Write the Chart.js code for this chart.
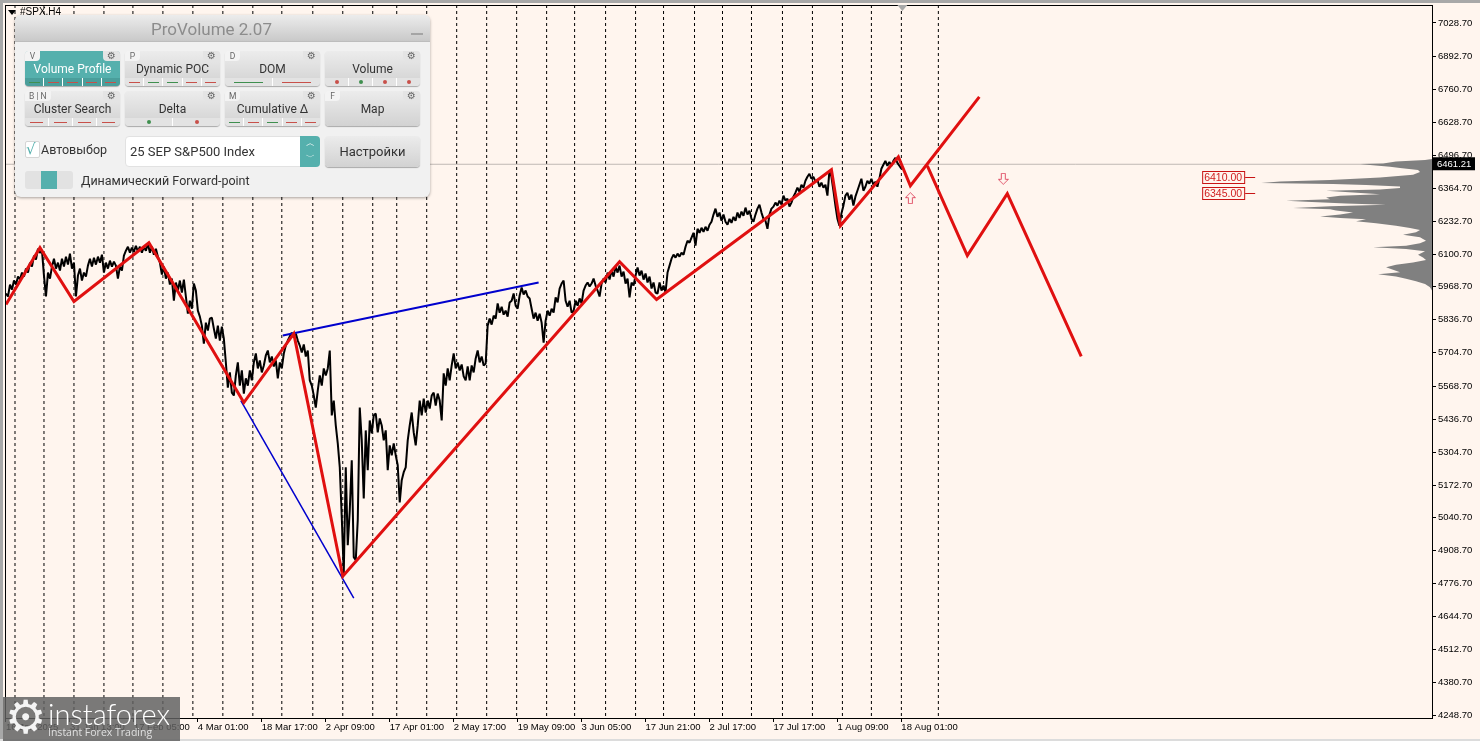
<!DOCTYPE html>
<html>
<head>
<meta charset="utf-8">
<title>#SPX,H4</title>
<script src="https://cdn.jsdelivr.net/npm/chart.js@4/dist/chart.umd.min.js"></script>
<style>
    html, body { margin: 0; padding: 0; background: #fff5ee; overflow: hidden; }
    #stage { position: relative; width: 1480px; height: 741px; font-family: Roboto, sans-serif; }
    #stage canvas { position: absolute; left: 0; top: 0; }
    .edge { position: absolute; background: #a8a8a8; }
    #symbol { position: absolute; left: 20px; top: 6px; font: 10px "Liberation Sans", sans-serif; color: #000; }
    #symbolArrow { position: absolute; left: 8px; top: 10px; width: 0; height: 0; border: 4px solid transparent; border-top: 5px solid #000; }

    #panel { position: absolute; left: 15px; top: 15px; width: 415px; height: 182px; background: #f1f1f1; border-radius: 6px; box-shadow: 0 1px 3px rgba(0,0,0,.35); }
    #panelTitle { height: 26px; padding-right: 22px; line-height: 28px; text-align: center; font-size: 17px; color: #8c8c8c; background: linear-gradient(#ececec, #c9c9c9); border-radius: 6px 6px 0 0; border-bottom: 1px solid #bdbdbd; }
    #panelMin { position: absolute; right: 7px; top: 18px; width: 12px; height: 2px; background: #a5a5a5; }
    .btn { position: absolute; width: 95px; height: 35px; border-radius: 4px; background: linear-gradient(#ececec, #d2d2d2); box-shadow: 0 1px 1px rgba(0,0,0,.3); font-size: 12px; color: #333; text-align: center; line-height: 36px; }
    .btn.active { background: #55b0ad; color: #fff; }
    .key { position: absolute; left: 0; top: 0; height: 10px; min-width: 7px; padding: 0 4px; background: #f3f3f3; border-radius: 3px 0 4px 0; font-size: 8.5px; line-height: 11px; color: #666; }
    .gear { position: absolute; right: 0; top: 0; width: 17px; height: 10px; background: #e4e4e4; border-radius: 0 3px 0 4px; font: 10px/10px "DejaVu Sans", sans-serif; color: #666; }
    .strip { position: absolute; left: 0; right: 0; bottom: 0; height: 8px; display: flex; background: #e3e3e3; border-radius: 0 0 4px 4px; }
    .active .strip { background: #4a9e9b; }
    .cell { flex: 1; position: relative; border-left: 1px solid #fff; }
    .cell:first-child { border-left: none; }
    .dash { position: absolute; left: 20%; right: 20%; top: 4px; height: 1px; }
    .dot { position: absolute; left: 50%; top: 2px; width: 4px; height: 4px; margin-left: -2px; border-radius: 50%; }
    #check { position: absolute; left: 10px; top: 126px; width: 13px; height: 15px; background: #fff; border: 1px solid #d5d5d5; border-radius: 2px; color: #55b0ad; font: 15px/14px "DejaVu Sans", sans-serif; }
    #checkLabel { position: absolute; left: 26px; top: 127px; font-size: 12.5px; color: #333; }
    #combo { position: absolute; left: 110px; top: 121px; width: 171px; height: 29px; padding-left: 4px; background: #fff; border: 1px solid #e2e2e2; border-radius: 4px 0 0 4px; font-size: 13px; line-height: 30px; color: #333; }
    #spin { position: absolute; left: 285px; top: 121px; width: 20px; height: 31px; background: #55b0ad; border-radius: 0 4px 4px 0; color: #fff; font: 9px/14px "DejaVu Sans", sans-serif; text-align: center; }
    #setup { left: 310px; top: 121px; height: 31px; line-height: 32px; font-size: 13px; }
    #toggle { position: absolute; left: 10px; top: 156px; width: 48px; height: 18px; border-radius: 3px; background: #e2e2e2; }
    #toggle div { position: absolute; left: 16px; width: 16px; height: 18px; background: #55b0ad; }
    #toggleLabel { position: absolute; left: 66px; top: 158px; font-size: 12.5px; color: #333; }

    #logo { position: absolute; left: 3px; top: 697px; width: 177px; height: 44px; background: rgba(96,96,96,.84); color: #fff; overflow: hidden; }
    #logoGear { position: absolute; left: 2px; top: -10px; font: 46px/60px "DejaVu Sans", sans-serif; color: #f4f4f4; }
    #logoName { position: absolute; left: 45px; top: 0; font: 300 29px/34px Lato, sans-serif; }
    #logoSub { position: absolute; left: 45px; top: 27px; font: 10.5px/16px "Open Sans", sans-serif; color: #e0e0e0; }
</style>
</head>
<body>
<div id="stage">
    <canvas id="chart" width="1480" height="741"></canvas>
    <div class="edge" style="left:0;top:0;width:1480px;height:3px"></div>
    <div class="edge" style="left:0;top:0;width:3px;height:741px"></div>
    <div class="edge" style="left:0;top:739px;width:1480px;height:2px;background:#dcdcdc"></div>
    <div id="symbolArrow"></div>
    <div id="symbol">#SPX,H4</div>
    <div id="panel">
        <div id="panelTitle">ProVolume 2.07</div>
        <div id="panelMin"></div>
        <div id="check">√</div>
        <div id="checkLabel">Автовыбор</div>
        <div id="combo">25 SEP S&amp;P500 Index</div>
        <div id="spin">︿<br>﹀</div>
        <div id="setup" class="btn">Настройки</div>
        <div id="toggle"><div></div></div>
        <div id="toggleLabel">Динамический Forward-point</div>
    </div>
    <div id="logo">
        <div id="logoGear">⚙</div>
        <div id="logoName">instaforex</div>
        <div id="logoSub">Instant Forex Trading</div>
    </div>
</div>
<script>
// axis labels
const priceTicks = [7028.7, 6892.7, 6760.7, 6628.7, 6496.7, 6364.7, 6232.7, 6100.7, 5968.7, 5836.7, 5704.7,
    5568.7, 5436.7, 5304.7, 5172.7, 5040.7, 4908.7, 4776.7, 4644.7, 4512.7, 4380.7, 4248.7];
const timeTickBars = [1, 65, 129, 193, 257, 321, 385, 449, 513, 577, 641, 705, 769, 833, 897];
const timeTickLabels = ['16 Jan 2025', '31 Jan 13:00', '17 Feb 05:00', '4 Mar 01:00', '18 Mar 17:00', '2 Apr 09:00',
    '17 Apr 01:00', '2 May 17:00', '19 May 09:00', '3 Jun 05:00', '17 Jun 21:00', '2 Jul 17:00', '17 Jul 17:00',
    '1 Aug 09:00', '18 Aug 01:00'];

// session separators (bar numbers)
const sessionBars = [10, 39, 69, 99, 128, 158, 188, 218, 248, 277, 308, 338, 368, 392, 422, 452, 482, 512, 542, 570,
    601, 631, 659, 690, 718, 747, 778, 808, 838, 867, 897, 934];

// price line, one reading every 2 bars starting at bar 1
const priceValues = [
    5942, 5930, 5978, 5958, 5994, 5978, 6010, 5998, 6026, 6010, 6042, 6026, 6066, 6050, 6094, 6078, 6122, 6106,
    6114, 6014, 5930, 6026, 6002, 6050, 6082, 6042, 6066, 6034, 6082, 6050, 6090, 6058, 6102, 6042, 6066,
    5930, 6014, 6042, 5994, 6026, 6010, 6054, 6082, 6050, 6086, 6058, 6090, 6066, 6098, 6026, 6066, 6042, 6074, 6050, 6070, 6054,
    6002, 6050, 6034, 6094, 6114, 6130, 6106, 6126, 6110, 6134, 6110, 6130, 6106, 6130, 6114, 6142, 6106, 6130, 6098, 6122, 6090,
    6066, 6018, 6050, 6002, 6026, 5978, 6002, 5913, 5986, 5954, 5994, 5946, 5998, 5930, 5861, 5913, 5881, 5982, 5954, 5873, 5849,
    5813, 5741, 5825, 5793, 5841, 5845, 5801, 5761, 5813, 5753, 5809, 5761, 5665, 5564, 5625, 5544, 5532, 5613, 5665, 5572, 5633,
    5540, 5601, 5572, 5633, 5593, 5665, 5701, 5641, 5673, 5625, 5653, 5693, 5713, 5665, 5689, 5649, 5673, 5601, 5665, 5641, 5701,
    5733, 5753, 5769, 5785, 5765, 5781, 5753, 5733, 5705, 5737, 5689, 5713, 5593, 5572, 5532, 5484, 5553, 5613, 5572, 5641, 5613,
    5641, 5713, 5452, 5512, 5412, 5340, 5244, 5043, 4818, 5244, 4931, 5071, 5272, 4883, 4871, 5031, 5484, 5352, 5119, 5392, 5232,
    5432, 5380, 5452, 5460, 5384, 5440, 5412, 5352, 5392, 5232, 5332, 5292, 5340, 5292, 5252, 5103, 5192, 5224, 5244, 5352, 5412,
    5464, 5384, 5332, 5412, 5512, 5452, 5520, 5464, 5512, 5480, 5532, 5544, 5492, 5540, 5512, 5432, 5621, 5572, 5641, 5593, 5653,
    5701, 5641, 5665, 5633, 5657, 5609, 5593, 5649, 5593, 5653, 5625, 5681, 5713, 5665, 5689, 5653, 5661, 5813, 5841, 5817, 5853,
    5841, 5902, 5865, 5889, 5857, 5873, 5849, 5906, 5913, 5942, 5893, 5881, 5934, 5966, 5938, 5954, 5930, 5922, 5881, 5841, 5865,
    5833, 5861, 5825, 5745, 5833, 5873, 5853, 5881, 5865, 5926, 5906, 5962, 5982, 5994, 5913, 5889, 5913, 5865, 5873, 5913, 5893,
    5922, 5902, 5954, 5974, 5986, 5970, 5982, 6002, 5974, 5954, 5930, 5982, 6002, 5986, 6026, 5998, 6034, 6010, 6050, 6026, 6054,
    6010, 6030, 5982, 6002, 5926, 5986, 5974, 6014, 6046, 6014, 6034, 5998, 6022, 5986, 6010, 5962, 5986, 5946, 5942, 5986, 5954,
    5974, 5946, 6026, 6054, 6082, 6098, 6086, 6102, 6090, 6106, 6098, 6130, 6154, 6146, 6166, 6186, 6134, 6202, 6186, 6206, 6190,
    6210, 6194, 6218, 6230, 6259, 6283, 6250, 6267, 6234, 6259, 6230, 6218, 6242, 6226, 6250, 6234, 6267, 6246, 6271, 6254, 6287,
    6259, 6275, 6242, 6230, 6259, 6283, 6299, 6267, 6242, 6234, 6202, 6259, 6283, 6291, 6307, 6295, 6315, 6299, 6335, 6315, 6323,
    6291, 6307, 6331, 6347, 6367, 6351, 6379, 6367, 6395, 6411, 6423, 6403, 6411, 6391, 6399, 6371, 6387, 6367, 6379, 6335, 6435,
    6411, 6355, 6295, 6242, 6214, 6263, 6295, 6335, 6347, 6319, 6339, 6295, 6331, 6355, 6379, 6403, 6355, 6371, 6395, 6383, 6403,
    6379, 6391, 6371, 6403, 6443, 6459, 6475, 6455, 6471, 6455, 6475, 6487, 6467, 6455, 6443
];
const priceFirstBar = 1;
const priceBarStep = 2;

// red wave count, the forecast legs run past the last bar
const waveBars = [1, 35, 69, 144, 239, 289, 338, 615, 652, 827, 836, 894, 906, 975];
const wavePrices = [5898, 6126, 5910, 6146, 5504, 5781, 4806, 6070, 5918, 6439, 6214, 6491, 6375, 6732];
const forecastBars = [923, 963, 1003, 1077];
const forecastPrices = [6455, 6094, 6343, 5689];

// blue trend lines
const upperTrendBars = [278, 534];
const upperTrendPrices = [5773, 5986];
const lowerTrendBars = [236, 349];
const lowerTrendPrices = [5512, 4718];

const lastPrice = 6461.21;
const levelPrices = [6410, 6345];
const arrowUpBars = [906];
const arrowUpPrices = [6325];
const arrowDownBars = [999];
const arrowDownPrices = [6403];

// volume profile on the right edge
const profilePrices = [6482, 6478, 6472, 6464, 6462, 6458, 6451, 6446, 6438, 6430, 6419, 6408, 6398, 6392, 6386, 6382, 6378,
    6372, 6366, 6360, 6355, 6348, 6341, 6335, 6328, 6321, 6315, 6311, 6304, 6299, 6293, 6285, 6280, 6275, 6267, 6259, 6251,
    6245, 6240, 6232, 6224, 6214, 6205, 6197, 6188, 6178, 6168, 6154, 6144, 6134, 6128, 6121, 6112, 6098, 6087, 6077, 6067,
    6058, 6047, 6037, 6027, 6019, 6010, 6001, 5991, 5980, 5967, 5954];
const profileVolumes = [0, 7, 36, 49, 72, 62, 42, 32, 14, 12, 19, 52, 102, 152, 171, 99, 66,
    32, 32, 52, 106, 79, 52, 92, 106, 102, 146, 126, 86, 46, 102, 139, 102, 96, 79, 92, 112,
    92, 66, 76, 56, 36, 22, 12, 16, 29, 12, 6, 12, 26, 59, 26, 7, 14, 9, 6, 19,
    36, 46, 39, 32, 54, 36, 26, 16, 7, 2, 0];

// panel buttons: key letters, caption, kind of mark per cell (r/g red or green, line or dot)
const panelButtons = [
    { keys: 'V', label: 'Volume Profile', marks: 'grrrr', dots: false, active: true },
    { keys: 'P', label: 'Dynamic POC', marks: 'rggrr', dots: false },
    { keys: 'D', label: 'DOM', marks: 'gr', dots: false },
    { keys: '', label: 'Volume', marks: 'rgrr', dots: true },
    { keys: 'B | N', label: 'Cluster Search', marks: 'rrrr', dots: false },
    { keys: '', label: 'Delta', marks: 'gr', dots: true },
    { keys: 'M', label: 'Cumulative Δ', marks: 'grgrr', dots: false },
    { keys: 'F', label: 'Map', marks: '', dots: false }
];

const axisFont = { family: '"Liberation Sans", sans-serif', size: 9.5 };

function toPoints(bars, prices) {
    return bars.map((bar, i) => ({ x: bar, y: prices[i] }));
}

function lineSet(points, color, width, extra) {
    return Object.assign({
        data: points, showLine: true, borderColor: color, borderWidth: width,
        pointRadius: 0, fill: false, tension: 0
    }, extra || {});
}

function arrowIcon(up) {
    const icon = document.createElement('canvas');
    icon.width = 11;
    icon.height = 12;
    const c = icon.getContext('2d');
    const shape = [[5.5, 0.5], [10.5, 5.5], [7.5, 5.5], [7.5, 11.5], [3.5, 11.5], [3.5, 5.5], [0.5, 5.5]];
    c.beginPath();
    shape.forEach(p => c.lineTo(p[0], up ? p[1] : 12 - p[1]));
    c.closePath();
    c.strokeStyle = '#e0546a';
    c.stroke();
    return icon;
}

function buildPanel() {
    const panel = document.getElementById('panel');
    panelButtons.forEach((b, i) => {
        const el = document.createElement('div');
        el.className = 'btn' + (b.active ? ' active' : '');
        el.style.left = (10 + (i % 4) * 100) + 'px';
        el.style.top = (36 + Math.floor(i / 4) * 40) + 'px';
        el.textContent = b.label;
        if (b.keys) {
            const key = document.createElement('div');
            key.className = 'key';
            key.textContent = b.keys;
            el.appendChild(key);
        }
        const gear = document.createElement('div');
        gear.className = 'gear';
        gear.textContent = '⚙';
        el.appendChild(gear);
        if (b.marks) {
            const strip = document.createElement('div');
            strip.className = 'strip';
            b.marks.split('').forEach(m => {
                const cell = document.createElement('div');
                cell.className = 'cell';
                const mark = document.createElement('div');
                mark.className = b.dots ? 'dot' : 'dash';
                mark.style.background = m === 'g' ? '#3f8f4f' : '#c8504a';
                cell.appendChild(mark);
                strip.appendChild(cell);
            });
            el.appendChild(strip);
        }
        panel.appendChild(el);
    });
}

// frame, price level tags and the last price tag
const overlayPlugin = {
    id: 'overlay',
    afterDraw(chart) {
        const { ctx, chartArea: area, scales } = chart;
        ctx.save();
        ctx.strokeStyle = '#000';
        ctx.lineWidth = 1;
        ctx.strokeRect(area.left + 0.5, area.top + 0.5, area.width, area.height);

        // chart shift marker
        const markX = scales.x.getPixelForValue(898);
        ctx.fillStyle = '#a8a8a8';
        ctx.beginPath();
        ctx.moveTo(markX - 5, area.top);
        ctx.lineTo(markX + 5, area.top);
        ctx.lineTo(markX, area.top + 6);
        ctx.fill();

        ctx.font = '10.5px "Liberation Sans", sans-serif';
        ctx.textBaseline = 'middle';
        levelPrices.forEach(price => {
            const y = Math.round(scales.y.getPixelForValue(price));
            const left = scales.x.getPixelForValue(1198);
            ctx.strokeStyle = '#c81414';
            ctx.fillStyle = '#d02020';
            ctx.strokeRect(left + 0.5, y - 5.5, 42, 12);
            ctx.textAlign = 'left';
            ctx.fillText(price.toFixed(2), left + 2, y + 1);
            ctx.beginPath();
            ctx.moveTo(left + 43, y + 0.5);
            ctx.lineTo(left + 53, y + 0.5);
            ctx.stroke();
        });

        const lastY = scales.y.getPixelForValue(lastPrice);
        ctx.fillStyle = '#000';
        ctx.fillRect(area.right + 1, lastY - 7, 42, 13);
        ctx.fillStyle = '#fff';
        ctx.font = axisFont.size + 'px ' + axisFont.family;
        ctx.fillText(lastPrice.toFixed(2), area.right + 5, lastY);
        ctx.restore();
    }
};

function drawChart() {
    const sessionSets = sessionBars.map(bar => lineSet(toPoints([bar, bar], [7101, 4236.7]), '#000', 1, { borderDash: [3, 3] }));
    const priceBars = priceValues.map((_, i) => priceFirstBar + i * priceBarStep);

    new Chart(document.getElementById('chart').getContext('2d'), {
        type: 'scatter',
        plugins: [overlayPlugin],
        data: {
            datasets: [
                lineSet(toPoints(waveBars, wavePrices), '#e01010', 3),
                lineSet(toPoints(forecastBars, forecastPrices), '#e01010', 3),
                {
                    data: toPoints(arrowUpBars, arrowUpPrices), pointStyle: arrowIcon(true), showLine: false
                },
                {
                    data: toPoints(arrowDownBars, arrowDownPrices), pointStyle: arrowIcon(false), showLine: false
                },
                lineSet(toPoints(upperTrendBars, upperTrendPrices), '#0000cd', 2),
                lineSet(toPoints(lowerTrendBars, lowerTrendPrices), '#0000cd', 1.5),
                lineSet(toPoints(priceBars, priceValues), '#000', 2, { borderJoinStyle: 'bevel' }),
                lineSet(profilePrices.map((p, i) => ({ x: profileVolumes[i], y: p })), '#808080', 0, {
                    xAxisID: 'volume', fill: 'shape', backgroundColor: '#808080'
                }),
                lineSet(toPoints([0, 1428], [lastPrice, lastPrice]), '#c0b8b4', 1)
            ].concat(sessionSets)
        },
        options: {
            responsive: false,
            animation: false,
            events: [],
            layout: { padding: { left: 4, top: 4 } },
            plugins: { legend: { display: false }, tooltip: { enabled: false } },
            scales: {
                x: {
                    type: 'linear', min: 0, max: 1428,
                    border: { color: '#000' },
                    grid: { drawOnChartArea: false, color: '#000', tickLength: 4 },
                    ticks: {
                        color: '#000', font: axisFont, align: 'start', autoSkip: false, maxRotation: 0, padding: 0,
                        callback: value => timeTickLabels[timeTickBars.indexOf(value)]
                    },
                    afterBuildTicks: scale => { scale.ticks = timeTickBars.map(value => ({ value })); },
                    afterFit: scale => { scale.height = 23; scale.paddingLeft = 0; scale.paddingRight = 0; }
                },
                volume: { type: 'linear', reverse: true, min: 0, max: 1428, display: false },
                y: {
                    position: 'right', min: 4236.7, max: 7101,
                    border: { color: '#000' },
                    grid: { drawOnChartArea: false, color: '#000', tickLength: 4 },
                    ticks: {
                        color: '#000', font: axisFont, padding: 2, autoSkip: false,
                        callback: value => value.toFixed(2)
                    },
                    afterBuildTicks: scale => { scale.ticks = priceTicks.map(value => ({ value })); },
                    afterFit: scale => { scale.width = 48; scale.paddingTop = 0; scale.paddingBottom = 0; }
                }
            }
        }
    });
}

buildPanel();
drawChart();
</script>
</body>
</html>
